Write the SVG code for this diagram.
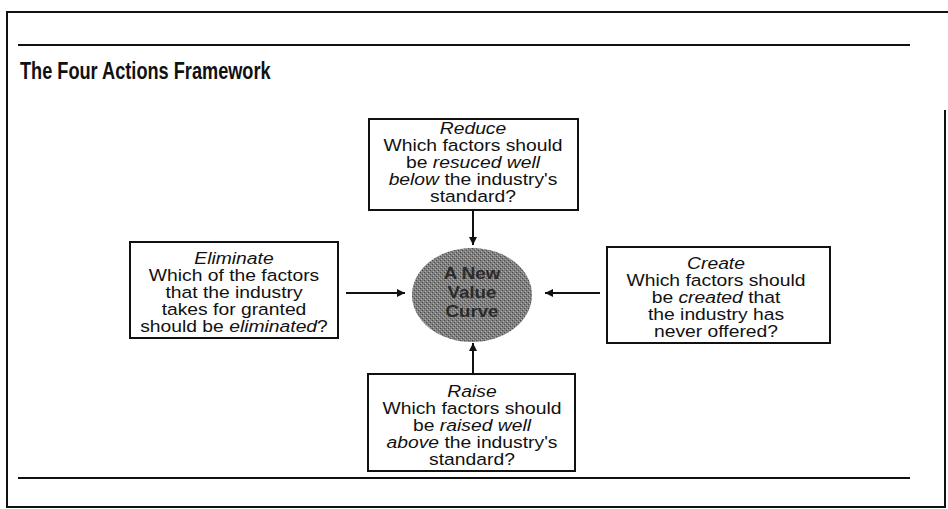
<svg xmlns="http://www.w3.org/2000/svg" width="948" height="509" viewBox="0 0 948 509">
  <defs>
    <style>
      .rule { stroke: #111; stroke-width: 2; fill: none; }
      .box { fill: #fff; stroke: #111; stroke-width: 2; }
      .conn { stroke: #111; stroke-width: 2; fill: none; }
      .t { font-family: "Liberation Sans", Arial, sans-serif; font-size: 16.5px; fill: #111; text-anchor: middle; }
      .i { font-style: italic; }
      .title { font-family: "Liberation Sans", Arial, sans-serif; font-size: 23px; font-weight: bold; fill: #111; }
      .hub { font-family: "Liberation Sans", Arial, sans-serif; font-size: 17px; font-weight: bold; fill: #2b2b2b; text-anchor: middle; }
    </style>
    <marker id="head" viewBox="0 0 10 10" refX="10" refY="5" markerWidth="4.5" markerHeight="4" orient="auto" markerUnits="strokeWidth">
      <path d="M0,0 L10,5 L0,10 Z" fill="#111"/>
    </marker>
    <pattern id="grain" width="4" height="4" patternUnits="userSpaceOnUse">
      <rect width="4" height="4" fill="#808080"/>
      <rect x="0" y="0" width="1" height="1" fill="#4a4a4a"/>
      <rect x="2" y="2" width="1" height="1" fill="#4a4a4a"/>
      <rect x="1" y="3" width="1" height="1" fill="#b0b0b0"/>
      <rect x="3" y="1" width="1" height="1" fill="#b0b0b0"/>
    </pattern>
  </defs>

  <rect width="948" height="509" fill="#fff"/>

  <!-- outer frame and rules -->
  <g id="frame">
    <path class="rule" d="M7,508 V12 H948"/>
    <path class="rule" d="M945,110 V507 H7"/>
    <line class="rule" x1="18" y1="45" x2="910" y2="45"/>
    <line class="rule" x1="18" y1="478" x2="910" y2="478"/>
  </g>

  <text class="title" transform="translate(20 0) scale(0.79 1)" x="0" y="79">The Four Actions Framework</text>

  <!-- connectors -->
  <g id="connectors">
    <line class="conn" x1="473" y1="210" x2="473" y2="245" marker-end="url(#head)"/>
    <line class="conn" x1="346" y1="293" x2="405" y2="293" marker-end="url(#head)"/>
    <line class="conn" x1="600" y1="293" x2="545" y2="293" marker-end="url(#head)"/>
    <line class="conn" x1="473" y1="374" x2="473" y2="343" marker-end="url(#head)"/>
  </g>

  <!-- central hub -->
  <g id="value-curve">
    <ellipse cx="472" cy="295" rx="60" ry="47" fill="url(#grain)"/>
    <g transform="translate(472 0) scale(1.1 1)">
      <text class="hub" x="0" y="279">A New</text>
      <text class="hub" x="0" y="298">Value</text>
      <text class="hub" x="0" y="317">Curve</text>
    </g>
  </g>

  <!-- Reduce -->
  <g id="reduce">
    <rect class="box" x="369" y="119" width="209" height="91"/>
    <g transform="translate(473 0) scale(1.17 1)">
      <text class="t i" x="0" y="134">Reduce</text>
      <text class="t" x="0" y="151">Which factors should</text>
      <text class="t" x="0" y="168">be <tspan class="i">resuced well</tspan></text>
      <text class="t" x="0" y="185"><tspan class="i">below</tspan> the industry's</text>
      <text class="t" x="0" y="202">standard?</text>
    </g>
  </g>

  <!-- Eliminate -->
  <g id="eliminate">
    <rect class="box" x="130" y="242" width="208" height="96"/>
    <g transform="translate(234 0) scale(1.17 1)">
      <text class="t i" x="0" y="264">Eliminate</text>
      <text class="t" x="0" y="281">Which of the factors</text>
      <text class="t" x="0" y="298">that the industry</text>
      <text class="t" x="0" y="315">takes for granted</text>
      <text class="t" x="0" y="332">should be <tspan class="i">eliminated</tspan>?</text>
    </g>
  </g>

  <!-- Create -->
  <g id="create">
    <rect class="box" x="607" y="247" width="223" height="96"/>
    <g transform="translate(716 0) scale(1.17 1)">
      <text class="t i" x="0" y="269">Create</text>
      <text class="t" x="0" y="286">Which factors should</text>
      <text class="t" x="0" y="303">be <tspan class="i">created</tspan> that</text>
      <text class="t" x="0" y="320">the industry has</text>
      <text class="t" x="0" y="337">never offered?</text>
    </g>
  </g>

  <!-- Raise -->
  <g id="raise">
    <rect class="box" x="368" y="374" width="207" height="97"/>
    <g transform="translate(472 0) scale(1.17 1)">
      <text class="t i" x="0" y="397">Raise</text>
      <text class="t" x="0" y="414">Which factors should</text>
      <text class="t" x="0" y="431">be <tspan class="i">raised well</tspan></text>
      <text class="t" x="0" y="448"><tspan class="i">above</tspan> the industry's</text>
      <text class="t" x="0" y="465">standard?</text>
    </g>
  </g>
</svg>
